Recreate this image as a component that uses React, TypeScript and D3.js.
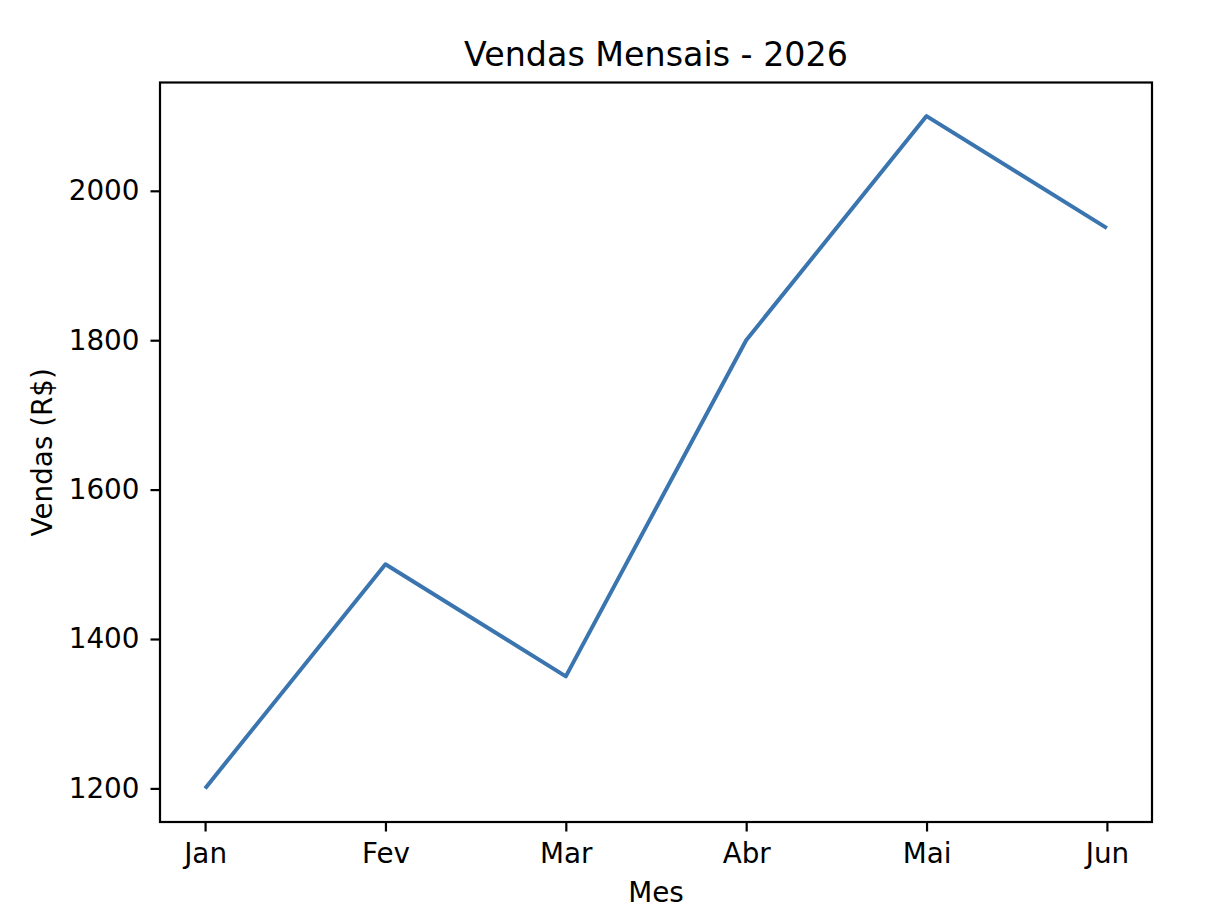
import React, { useEffect, useRef } from 'react';
import * as d3 from 'd3';

const months: string[] = ['Jan', 'Fev', 'Mar', 'Abr', 'Mai', 'Jun'];
const sales: number[] = [1200, 1500, 1350, 1800, 2100, 1950];
const yTicks: number[] = [1200, 1400, 1600, 1800, 2000];

const W = 1206;
const H = 918;
const FONT = '"DejaVu Sans", sans-serif';

const App: React.FC = () => {
  const svgRef = useRef<SVGSVGElement | null>(null);

  useEffect(() => {
    if (!svgRef.current) return;
    const svg = d3.select(svgRef.current);
    svg.selectAll('*').remove();

    const margin = { top: 82.5, right: 54, bottom: 96, left: 160 };
    const innerW = W - margin.left - margin.right;
    const innerH = H - margin.top - margin.bottom;

    // matplotlib-style 5% padding around the data
    const n = months.length - 1;
    const x = d3.scaleLinear().domain([-0.05 * n, n * 1.05]).range([0, innerW]);
    const yMin = d3.min(sales) || 0;
    const yMax = d3.max(sales) || 0;
    const pad = (yMax - yMin) * 0.05;
    const y = d3.scaleLinear().domain([yMin - pad, yMax + pad]).range([innerH, 0]);

    svg.append('rect').attr('width', W).attr('height', H).attr('fill', '#fff');

    const g = svg.append('g').attr('transform', `translate(${margin.left},${margin.top})`);

    // line
    const line = d3.line<number>()
      .x((_, i) => x(i))
      .y(d => y(d));
    g.append('path')
      .datum(sales)
      .attr('d', line)
      .attr('fill', 'none')
      .attr('stroke', '#3a75af')
      .attr('stroke-width', 4)
      .attr('stroke-linejoin', 'round')
      .attr('stroke-linecap', 'butt');

    // x axis
    const xAxis = g.append('g')
      .attr('transform', `translate(0,${innerH})`)
      .call(
        d3.axisBottom(x)
          .tickValues(d3.range(months.length))
          .tickFormat(i => months[i as number])
          .tickSize(9.5)
          .tickPadding(12)
      );
    xAxis.select('.domain').remove();
    xAxis.selectAll('line').attr('stroke', '#000').attr('stroke-width', 2.2);
    xAxis.selectAll('text')
      .attr('fill', '#000')
      .style('font-family', FONT)
      .style('font-size', '27.8px');

    // y axis
    const yAxis = g.append('g')
      .call(
        d3.axisLeft(y)
          .tickValues(yTicks)
          .tickFormat(d3.format('d'))
          .tickSize(9.5)
          .tickPadding(11)
      );
    yAxis.select('.domain').remove();
    yAxis.selectAll('line').attr('stroke', '#000').attr('stroke-width', 2.2);
    yAxis.selectAll('text')
      .attr('fill', '#000')
      .style('font-family', FONT)
      .style('font-size', '27.8px');

    // frame
    g.append('rect')
      .attr('width', innerW)
      .attr('height', innerH)
      .attr('fill', 'none')
      .attr('stroke', '#000')
      .attr('stroke-width', 2.2);

    // title and labels
    svg.append('text')
      .attr('x', margin.left + innerW / 2)
      .attr('y', 66)
      .attr('text-anchor', 'middle')
      .style('font-family', FONT)
      .style('font-size', '33.3px')
      .text('Vendas Mensais - 2026');

    svg.append('text')
      .attr('x', margin.left + innerW / 2)
      .attr('y', 901.5)
      .attr('text-anchor', 'middle')
      .style('font-family', FONT)
      .style('font-size', '27.8px')
      .text('Mes');

    svg.append('text')
      .attr('transform', `translate(52,${margin.top + innerH / 2}) rotate(-90)`)
      .attr('text-anchor', 'middle')
      .style('font-family', FONT)
      .style('font-size', '27.8px')
      .text('Vendas (R$)');
  }, []);

  return (
    <svg
      ref={svgRef}
      width={W}
      height={H}
      style={{ position: 'absolute', left: 0, top: 0, display: 'block' }}
    />
  );
};

export default App;
